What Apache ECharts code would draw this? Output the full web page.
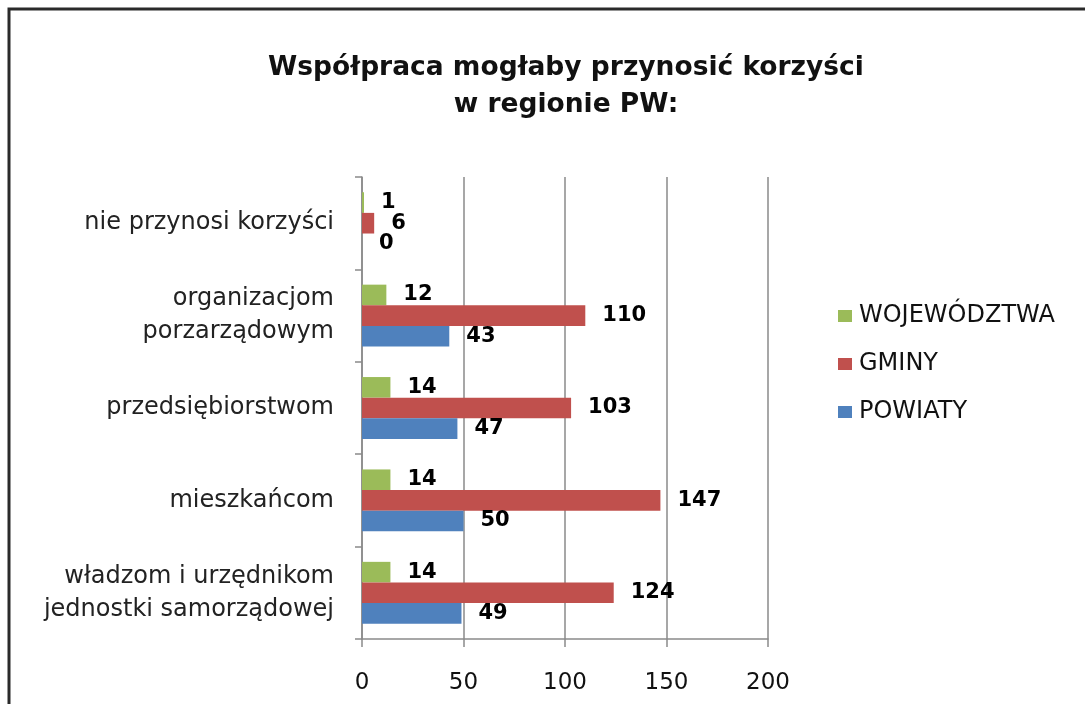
<!DOCTYPE html>
<html><head><meta charset="utf-8">
<script src="https://cdn.jsdelivr.net/npm/echarts@6/dist/echarts.min.js"></script>
<style>html,body{margin:0;padding:0;background:#fff}#c{width:1085px;height:704px}</style>
</head><body><div id="c"></div>
<script>
const categories = ["władzom i urzędnikom\njednostki samorządowej", "mieszkańcom", "przedsiębiorstwom", "organizacjom\nporzarządowym", "nie przynosi korzyści"];
const powiaty = [49, 50, 47, 43, 0];
const gminy = [124, 147, 103, 110, 6];
const wojewodztwa = [14, 14, 14, 12, 1];
const xTicks = [0, 50, 100, 150, 200];
const titleText = "Współpraca mogłaby przynosić korzyści\nw regionie PW:";

const FONT = "'DejaVu Sans', sans-serif";
const chart = echarts.init(document.getElementById('c'));
const lbl = {show: true, position: 'right', distance: 17, color: '#000', fontWeight: 'bold', fontSize: 21, fontFamily: FONT};
chart.setOption({
  animation: false,
  backgroundColor: '#fff',
  graphic: [{type: 'rect', shape: {x: 9, y: 9, width: 1200, height: 800}, style: {fill: 'none', stroke: '#2a2a2a', lineWidth: 3}}],
  title: {text: titleText, left: 561, textAlign: 'center', top: 45,
    textStyle: {fontFamily: FONT, fontWeight: 'bold', fontSize: 26.5, color: '#111', lineHeight: 37}},
  legend: {orient: 'vertical', left: 833, top: 299, itemWidth: 14, itemHeight: 12, itemGap: 24,
    data: ['WOJEWÓDZTWA', 'GMINY', 'POWIATY'], icon: 'rect',
    textStyle: {fontFamily: FONT, fontSize: 24, color: '#111', padding: [0, 0, 0, 2]}},
  grid: {left: 362, right: 317, top: 177, bottom: 65},
  xAxis: {type: 'value', min: xTicks[0], max: xTicks[xTicks.length - 1], interval: 50,
    axisLine: {show: true, lineStyle: {color: '#8a8a8a', width: 1.5}},
    axisTick: {show: true, length: 8, lineStyle: {color: '#8a8a8a', width: 1.5}},
    splitLine: {show: true, lineStyle: {color: '#8a8a8a', width: 1.5}},
    axisLabel: {margin: 33, fontFamily: FONT, fontSize: 23, color: '#111'}},
  yAxis: {type: 'category', data: categories,
    axisLine: {show: true, lineStyle: {color: '#8a8a8a', width: 1.5}},
    axisTick: {show: true, length: 7, lineStyle: {color: '#8a8a8a', width: 1.5}},
    axisLabel: {margin: 28, fontFamily: FONT, fontSize: 24, color: '#222', lineHeight: 33, align: 'right'}},
  series: [
    {name: 'WOJEWÓDZTWA', type: 'bar', data: wojewodztwa, barGap: '0%', barCategoryGap: '33%', itemStyle: {color: '#9bbb59'}, label: lbl},
    {name: 'GMINY', type: 'bar', data: gminy, barGap: '0%', barCategoryGap: '33%', itemStyle: {color: '#c0504d'}, label: lbl},
    {name: 'POWIATY', type: 'bar', data: powiaty, barGap: '0%', barCategoryGap: '33%', itemStyle: {color: '#4f81bd'}, label: lbl}
  ]
});
</script></body></html>
